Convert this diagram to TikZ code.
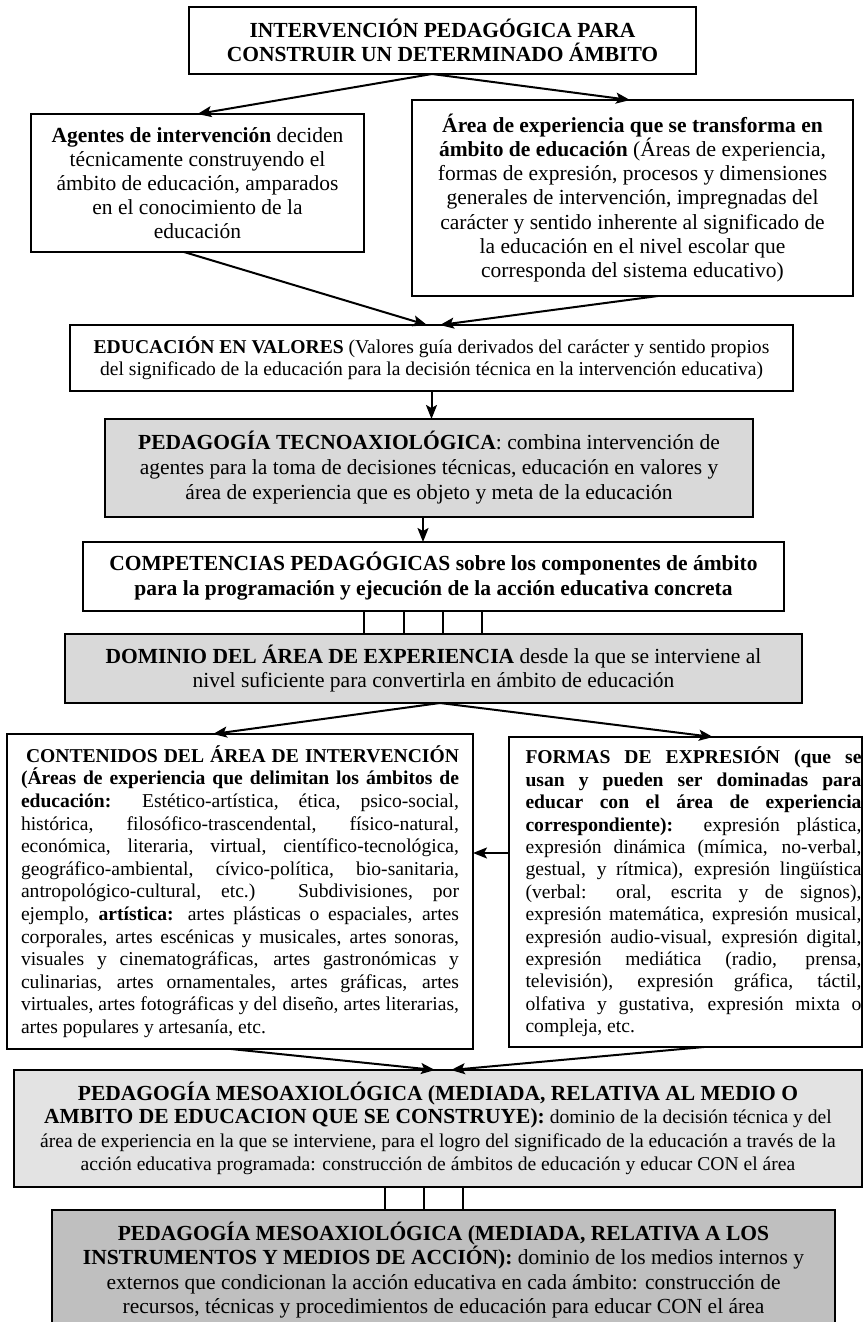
\documentclass[tikz,border=0pt]{standalone}
\usepackage{fontspec}
\setmainfont{Liberation Serif}
\usetikzlibrary{arrows.meta}
% font size / line spacing in one go
\newcommand\fsz[2]{\fontsize{#1}{#2}\selectfont}
\tolerance=9999
\hyphenpenalty=10000
\exhyphenpenalty=10000

\begin{document}
\begin{tikzpicture}[x=1pt,y=-1pt,
  every node/.style={inner sep=0pt, outer sep=0pt},
  box/.style={draw, line width=2pt, align=center},
  conn/.style={line width=2pt},
  arr/.style={conn, -{Stealth[length=14pt,width=11pt,inset=3pt]}},
  grayA/.style={fill=black!15},
  grayB/.style={fill=black!11},
  grayC/.style={fill=black!25},
]
\useasboundingbox (0,0) rectangle (863,1322);
\clip (0,0) rectangle (863,1322);

% ---- top level ----
\node[box, minimum width=507pt, minimum height=67pt, font=\fsz{21.5}{24}\bfseries]
  (top) at (442.5,40.5) {INTERVENCIÓN PEDAGÓGICA PARA\\CONSTRUIR UN DETERMINADO ÁMBITO};

\node[box, minimum width=333pt, minimum height=138pt, font=\fsz{21.5}{24}]
  (agentes) at (197.5,183) {\textbf{Agentes de intervención} deciden\\técnicamente construyendo el\\ámbito de educación, amparados\\en el conocimiento de la\\educación};

\node[box, minimum width=441pt, minimum height=196pt, font=\fsz{21.5}{24.2}]
  (area) at (632.5,198) {\textbf{Área de experiencia que se transforma en}\\\textbf{ámbito de educación} (Áreas de experiencia,\\formas de expresión, procesos y dimensiones\\generales de intervención, impregnadas del\\carácter y sentido inherente al significado de\\la educación en el nivel escolar que\\corresponda del sistema educativo)};

\node[box, minimum width=723pt, minimum height=66pt, font=\fsz{19.6}{22.4}]
  (valores) at (431.5,358) {\textbf{EDUCACIÓN EN VALORES} (Valores guía derivados del carácter y sentido propios\\del significado de la educación para la decisión técnica en la intervención educativa)};

\node[box, grayA, minimum width=648pt, minimum height=98pt, font=\fsz{21.5}{25}]
  (tecno) at (429,468) {\textbf{PEDAGOGÍA TECNOAXIOLÓGICA}: combina intervención de\\agentes para la toma de decisiones técnicas, educación en valores y\\área de experiencia que es objeto y meta de la educación};

\node[box, minimum width=701pt, minimum height=69pt, font=\fsz{21.5}{25}\bfseries]
  (comp) at (433.5,576.5) {COMPETENCIAS PEDAGÓGICAS sobre los componentes de ámbito\\para la programación y ejecución de la acción educativa concreta};

\node[box, grayA, minimum width=737pt, minimum height=69pt, font=\fsz{21.5}{24}]
  (dominio) at (433.5,668.5) {\textbf{DOMINIO DEL ÁREA DE EXPERIENCIA} desde la que se interviene al\\nivel suficiente para convertirla en ámbito de educación};

% ---- two justified blocks ----
\node[box, minimum width=466pt, minimum height=315pt]
  (contenidos) at (240,891.5) {\parbox[c]{438pt}{\fsz{19.6}{22.6}%
\hspace*{5pt}\textbf{CONTENIDOS DEL ÁREA DE INTERVENCIÓN}\linebreak
\textbf{(Áreas de experiencia que delimitan los ámbitos de}\linebreak
\textbf{educación:} Estético-artística, ética, psico-social,\linebreak
histórica, filosófico-trascendental, físico-natural,\linebreak
económica, literaria, virtual, científico-tecnológica,\linebreak
geográfico-ambiental, cívico-política, bio-sanitaria,\linebreak
antropológico-cultural, etc.) Subdivisiones, por\linebreak
ejemplo, \textbf{artística:} artes plásticas o espaciales, artes\linebreak
corporales, artes escénicas y musicales, artes sonoras,\linebreak
visuales y cinematográficas, artes gastronómicas y\linebreak
culinarias, artes ornamentales, artes gráficas, artes\linebreak
virtuales, artes fotográficas y del diseño, artes literarias,\linebreak
artes populares y artesanía, etc.}};

\node[box, minimum width=353pt, minimum height=310pt]
  (formas) at (685.5,892) {\hspace*{16pt}\parbox[c]{336pt}{\fsz{19.6}{22.4}%
\textbf{FORMAS DE EXPRESIÓN (que se}\linebreak
\textbf{usan y pueden ser dominadas para}\linebreak
\textbf{educar con el área de experiencia}\linebreak
\textbf{correspondiente):} expresión plástica,\linebreak
expresión dinámica (mímica, no-verbal,\linebreak
gestual, y rítmica), expresión lingüística\linebreak
(verbal: oral, escrita y de signos),\linebreak
expresión matemática, expresión musical,\linebreak
expresión audio-visual, expresión digital,\linebreak
expresión mediática (radio, prensa,\linebreak
televisión), expresión gráfica, táctil,\linebreak
olfativa y gustativa, expresión mixta o\linebreak
compleja, etc.}};

% ---- bottom level ----
\node[box, grayB, minimum width=848pt, minimum height=117pt, font=\fsz{19.6}{23.5}]
  (meso1) at (438,1128.5) {{\fsz{21.5}{23.5}\bfseries PEDAGOGÍA MESOAXIOLÓGICA (MEDIADA, RELATIVA AL MEDIO O}\\{\fsz{21.5}{23.5}\bfseries AMBITO DE EDUCACION QUE SE CONSTRUYE):} dominio de la decisión técnica y del\\área de experiencia en la que se interviene, para el logro del significado de la educación a través de la\\acción educativa programada: construcción de ámbitos de educación y educar CON el área};

\node[box, grayC, minimum width=783pt, minimum height=120pt, anchor=north, font=\fsz{21.5}{24.5}]
  (meso2) at (443.5,1210) {\textbf{PEDAGOGÍA MESOAXIOLÓGICA (MEDIADA, RELATIVA A LOS}\\\textbf{INSTRUMENTOS Y MEDIOS DE ACCIÓN):} dominio de los medios internos y\\externos que condicionan la acción educativa en cada ámbito: construcción de\\recursos, técnicas y procedimientos de educación para educar CON el área};

% ---- connectors ----
\draw[arr] ([xshift=-10.5pt]top.south) -- (agentes.north);
\draw[arr] ([xshift=-10.5pt]top.south) -- ([xshift=-2.5pt]area.north);
\draw[arr] ([xshift=-13.5pt]agentes.south) -- ([xshift=-4.5pt]valores.north);
\draw[arr] ([xshift=25.5pt]area.south) -- ([xshift=8.5pt]valores.north);
\draw[arr] (valores.south) -- (valores.south |- tecno.north);
\coordinate (t1) at ([xshift=-6pt]tecno.south);
\draw[arr] (t1) -- (t1 |- comp.north);
\foreach \dx [count=\i] in {-69.5,-29.5,9.5,48.5} {
  \coordinate (cd\i) at ([xshift=\dx pt]comp.south);
  \draw[conn] (cd\i) -- (cd\i |- dominio.north);
}
\draw[arr] ([xshift=6.5pt]dominio.south) -- ([xshift=-27pt]contenidos.north);
\draw[arr] ([xshift=6.5pt]dominio.south) -- ([xshift=27.5pt]formas.north);
\coordinate (f1) at ([yshift=39pt]formas.west);
\draw[arr] (f1) -- (f1 -| contenidos.east);
\draw[arr] ([xshift=-9pt]contenidos.south) -- ([xshift=-3pt]meso1.north);
\draw[arr] ([xshift=18.5pt]formas.south) -- ([xshift=13pt]meso1.north);
\foreach \dx [count=\i] in {-53,-14,25} {
  \coordinate (mm\i) at ([xshift=\dx pt]meso1.south);
  \draw[conn] (mm\i) -- (mm\i |- meso2.north);
}
\end{tikzpicture}
\end{document}
